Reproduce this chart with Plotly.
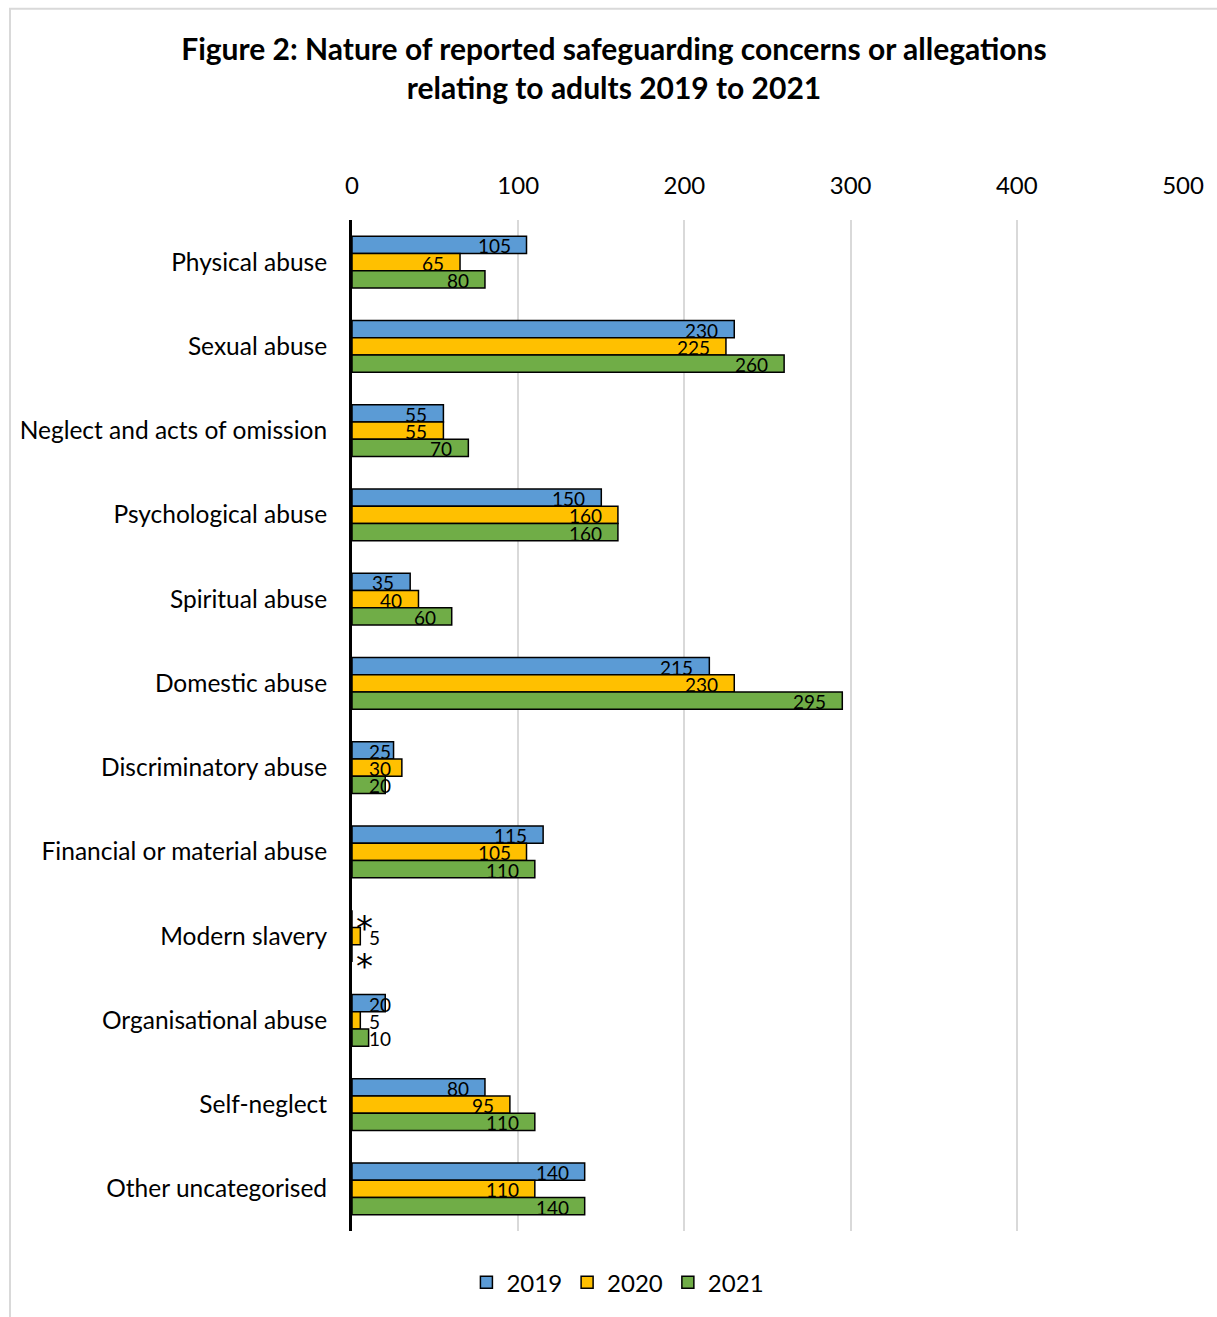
import plotly.graph_objects as go

categories = ["Physical abuse", "Sexual abuse", "Neglect and acts of omission",
              "Psychological abuse", "Spiritual abuse", "Domestic abuse",
              "Discriminatory abuse", "Financial or material abuse", "Modern slavery",
              "Organisational abuse", "Self-neglect", "Other uncategorised"]
# None = suppressed value shown as "*"
v2019 = [105, 230, 55, 150, 35, 215, 25, 115, None, 20, 80, 140]
v2020 = [65, 225, 55, 160, 40, 230, 30, 105, 5, 5, 95, 110]
v2021 = [80, 260, 70, 160, 60, 295, 20, 110, None, 10, 110, 140]
years = ["2019", "2020", "2021"]
colors = ["#5B9BD5", "#FFC000", "#70AD47"]
x_ticks = [0, 100, 200, 300, 400, 500]

FONT = "Lato"
BARGAP = 0.385
bar_w = (1 - BARGAP) / 3  # width of one bar in category units

fig = go.Figure()
annotations = []
for k, (name, vals, col) in enumerate(zip(years, [v2019, v2020, v2021], colors)):
    xs = [0 if v is None else v for v in vals]
    fig.add_trace(go.Bar(
        y=categories, x=xs, name=name, orientation="h",
        marker=dict(color=col, line=dict(color="black", width=1.5)),
        hoverinfo="skip",
    ))
    offset = (k - 1) * bar_w
    for i, v in enumerate(vals):
        ypos = i + offset
        if v is None:
            annotations.append(dict(
                x=0, y=ypos, xref="x", yref="y", text="*", showarrow=False,
                xanchor="left", yanchor="middle", xshift=2,
                yshift=-9 + (0 if k == 0 else -4),
                font=dict(family="DejaVu Sans", size=34, color="black")))
        elif v <= 30:
            annotations.append(dict(
                x=0, y=ypos, xref="x", yref="y", text=str(v), showarrow=False,
                xanchor="left", yanchor="middle", xshift=15, yshift=-1,
                font=dict(family=FONT, size=19, color="black")))
        else:
            annotations.append(dict(
                x=v, y=ypos, xref="x", yref="y", text=str(v), showarrow=False,
                xanchor="right", yanchor="middle", xshift=-14, yshift=-1,
                font=dict(family=FONT, size=19, color="black")))

fig.update_layout(
    width=1217, height=1317,
    margin=dict(l=352, r=34, t=220, b=82),
    paper_bgcolor="white", plot_bgcolor="white",
    barmode="group", bargap=BARGAP, bargroupgap=0,
    font=dict(family=FONT, color="black"),
    title=dict(
        text="<b>Figure 2: Nature of reported safeguarding concerns or allegations<br>relating to adults 2019 to 2021</b>",
        x=0.5045, xref="container", xanchor="center",
        y=1 - 60 / 1317, yref="container", yanchor="middle",
        font=dict(size=30, family=FONT, color="black"),
    ),
    xaxis=dict(
        side="top", range=[0, 500], tickvals=x_ticks,
        showgrid=True, gridcolor="#d9d9d9", gridwidth=2,
        zeroline=False, showline=False, ticks="",
        tickfont=dict(size=24, family=FONT), ticklabelstandoff=20,
    ),
    yaxis=dict(
        autorange="reversed", showline=True, linecolor="black", linewidth=3,
        ticks="", tickfont=dict(size=24.5, family=FONT), ticklabelstandoff=17,
        showgrid=False,
    ),
    legend=dict(
        orientation="h", x=0.32, xanchor="center", y=-0.0512, yanchor="middle",
        font=dict(size=24, family=FONT), traceorder="normal",
        itemwidth=30,
    ),
    annotations=annotations,
    shapes=[dict(type="rect", xref="paper", yref="paper",
                 x0=(10 - 352) / 831, x1=(1230 - 352) / 831,
                 y0=(1235 - 1330) / 1015, y1=(1235 - 8) / 1015,
                 line=dict(color="#d9d9d9", width=2), layer="below")],
)

fig.write_html("out.html")
